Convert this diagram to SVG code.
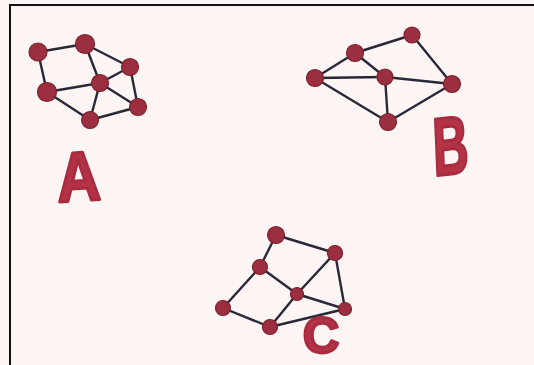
<svg xmlns="http://www.w3.org/2000/svg" width="534" height="365" viewBox="0 0 534 365">
<style>
.bg{fill:#fdf5f3}
.frame{stroke:#111;stroke-width:2;fill:none}
.e{stroke:#2a2838;stroke-width:2.4;stroke-linecap:round}
.n{fill:#9b2f3f;stroke:#7e2230;stroke-width:1.2}
.lbl{font-family:"Liberation Sans",Arial,sans-serif;font-weight:bold;fill:#b33246;stroke:#a82c40;stroke-width:3;stroke-linejoin:round}
</style>
<rect class="bg" x="0" y="0" width="534" height="365"/>
<path class="frame" d="M10,365 V5 H534"/>
<g id="connectors">
<line class="e" x1="38" y1="52" x2="85" y2="44"/>
<line class="e" x1="38" y1="52" x2="47" y2="92"/>
<line class="e" x1="85" y1="44" x2="130" y2="67"/>
<line class="e" x1="85" y1="44" x2="100" y2="83"/>
<line class="e" x1="130" y1="67" x2="100" y2="83"/>
<line class="e" x1="130" y1="67" x2="138" y2="107"/>
<line class="e" x1="47" y1="92" x2="100" y2="83"/>
<line class="e" x1="100" y1="83" x2="138" y2="107"/>
<line class="e" x1="100" y1="83" x2="90" y2="120"/>
<line class="e" x1="47" y1="92" x2="90" y2="120"/>
<line class="e" x1="90" y1="120" x2="138" y2="107"/>
<line class="e" x1="315" y1="78" x2="355" y2="53"/>
<line class="e" x1="315" y1="78" x2="385" y2="77"/>
<line class="e" x1="315" y1="78" x2="388" y2="122"/>
<line class="e" x1="355" y1="53" x2="412" y2="35"/>
<line class="e" x1="355" y1="53" x2="385" y2="77"/>
<line class="e" x1="412" y1="35" x2="452" y2="84"/>
<line class="e" x1="385" y1="77" x2="452" y2="84"/>
<line class="e" x1="385" y1="77" x2="388" y2="122"/>
<line class="e" x1="388" y1="122" x2="452" y2="84"/>
<line class="e" x1="276" y1="235" x2="335" y2="253"/>
<line class="e" x1="276" y1="235" x2="260" y2="267"/>
<line class="e" x1="335" y1="253" x2="297" y2="294"/>
<line class="e" x1="335" y1="253" x2="345" y2="309"/>
<line class="e" x1="260" y1="267" x2="297" y2="294"/>
<line class="e" x1="297" y1="294" x2="345" y2="309"/>
<line class="e" x1="260" y1="267" x2="223" y2="308"/>
<line class="e" x1="223" y1="308" x2="270" y2="327"/>
<line class="e" x1="297" y1="294" x2="270" y2="327"/>
<line class="e" x1="270" y1="327" x2="345" y2="309"/>
</g>
<g id="A1"><circle class="n" cx="38" cy="52" r="9"/></g>
<g id="A2"><circle class="n" cx="85" cy="44" r="9.5"/></g>
<g id="A3"><circle class="n" cx="130" cy="67" r="8.5"/></g>
<g id="A4"><circle class="n" cx="100" cy="83" r="8.5"/></g>
<g id="A5"><circle class="n" cx="47" cy="92" r="9.5"/></g>
<g id="A6"><circle class="n" cx="138" cy="107" r="8.5"/></g>
<g id="A7"><circle class="n" cx="90" cy="120" r="8.5"/></g>
<g id="B1"><circle class="n" cx="315" cy="78" r="8.5"/></g>
<g id="B2"><circle class="n" cx="355" cy="53" r="8.5"/></g>
<g id="B3"><circle class="n" cx="412" cy="35" r="8"/></g>
<g id="B4"><circle class="n" cx="385" cy="77" r="8"/></g>
<g id="B5"><circle class="n" cx="452" cy="84" r="8.5"/></g>
<g id="B6"><circle class="n" cx="388" cy="122" r="8.5"/></g>
<g id="C1"><circle class="n" cx="276" cy="235" r="8.5"/></g>
<g id="C2"><circle class="n" cx="335" cy="253" r="7.5"/></g>
<g id="C3"><circle class="n" cx="260" cy="267" r="7.5"/></g>
<g id="C4"><circle class="n" cx="297" cy="294" r="6.5"/></g>
<g id="C5"><circle class="n" cx="223" cy="308" r="7.5"/></g>
<g id="C6"><circle class="n" cx="345" cy="309" r="6.5"/></g>
<g id="C7"><circle class="n" cx="270" cy="327" r="7.5"/></g>
<g id="labelA"><text class="lbl" font-size="70" transform="translate(58,202) scale(0.86,1) rotate(-3)">A</text></g>
<g id="labelB"><text class="lbl" font-size="82" transform="translate(434,176) scale(0.6,1) rotate(-4)">B</text></g>
<g id="labelC"><text class="lbl" font-size="50" x="303" y="353">C</text></g>
</svg>
